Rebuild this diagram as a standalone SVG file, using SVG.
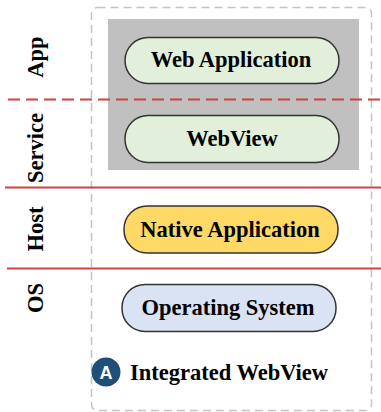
<svg xmlns="http://www.w3.org/2000/svg" width="381" height="412" viewBox="0 0 381 412">
<style>
.lbl{font-family:"Liberation Serif",serif;font-weight:bold;font-size:22.5px;fill:#000;text-anchor:middle}
.pill{stroke:#333;stroke-width:1.5}
.red{stroke:#d24141;stroke-width:2;fill:none}
</style>
<rect width="381" height="412" fill="#fff"/>
<rect id="frame" x="91.5" y="7.5" width="280" height="403" rx="6" fill="none" stroke="#c4c4c4" stroke-width="1.5" stroke-dasharray="8 5"/>
<rect id="webview-area" x="108" y="19" width="251" height="151" fill="#c0c0c0"/>
<g id="layers">
<line class="red" x1="8" y1="99.5" x2="381" y2="99.5" stroke-dasharray="12 6"/>
<line class="red" x1="5" y1="187.5" x2="381" y2="187.5"/>
<line class="red" x1="7" y1="268.5" x2="381" y2="268.5"/>
</g>
<g id="side-labels">
<text class="lbl" transform="translate(43,57) rotate(-90)">App</text>
<text class="lbl" transform="translate(43,148) rotate(-90)">Service</text>
<text class="lbl" transform="translate(43,229) rotate(-90)">Host</text>
<text class="lbl" transform="translate(43,298) rotate(-90)">OS</text>
</g>
<g id="web-application">
<rect class="pill" x="125" y="37.5" width="214" height="46" rx="23" fill="#e2efda"/>
<text class="lbl" x="231" y="67">Web Application</text>
</g>
<g id="webview">
<rect class="pill" x="125" y="115.5" width="214" height="47" rx="23" fill="#e2efda"/>
<text class="lbl" x="232" y="146">WebView</text>
</g>
<g id="native-application">
<rect class="pill" x="124" y="206" width="214" height="47" rx="23" fill="#ffd966"/>
<text class="lbl" x="230" y="237">Native Application</text>
</g>
<g id="operating-system">
<rect class="pill" x="122" y="284.5" width="214" height="47" rx="23" fill="#dae3f3"/>
<text class="lbl" x="228" y="315">Operating System</text>
</g>
<g id="caption">
<circle cx="106" cy="372" r="14.5" fill="#1f4e79"/>
<text x="106" y="379" font-family="'Liberation Sans',sans-serif" font-weight="bold" font-size="18" fill="#fff" text-anchor="middle">A</text>
<text class="lbl" x="130" y="380" style="text-anchor:start">Integrated WebView</text>
</g>
</svg>
